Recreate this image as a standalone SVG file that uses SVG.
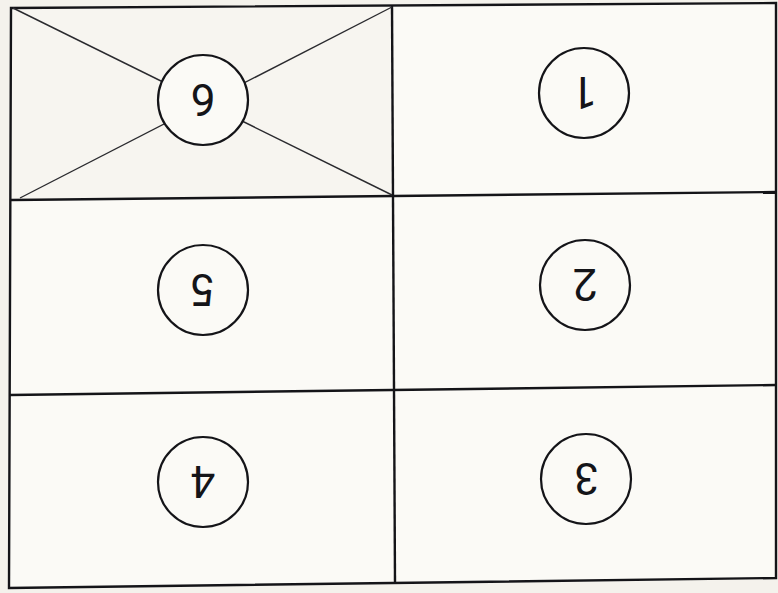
<svg xmlns="http://www.w3.org/2000/svg" width="778" height="593" viewBox="0 0 778 593">
<style>
.cell{fill:#fbfaf6;stroke:none}
.frame{fill:none;stroke:#141418;stroke-width:2.4;stroke-linejoin:miter}
.diag{stroke:#2a2a2e;stroke-width:1.4}
.ring{fill:#fbfaf6;stroke:#141418;stroke-width:2.2}
.num{font-family:Roboto,"Liberation Sans",sans-serif;font-size:44px;fill:#141418;text-anchor:middle}
</style>
<rect width="778" height="593" fill="#f4f2ec"/>
<polygon class="cell" points="11,8 776,3 776,578 9,588"/>
<polygon points="11,8 392,5 393,196 11,200" fill="#f7f5f0"/>
<g id="grid">
<polygon class="frame" points="11,8 776,3 776,578 9,588"/>
<line class="frame" x1="392" y1="5" x2="395" y2="582"/>
<line class="frame" x1="11" y1="200" x2="776" y2="192"/>
<line class="frame" x1="10" y1="395" x2="776" y2="385"/>
</g>
<g id="connectors">
<line class="diag" x1="13" y1="8" x2="392" y2="195"/>
<line class="diag" x1="20" y1="198" x2="392" y2="7"/>
</g>
<g id="n6">
<circle class="ring" cx="203" cy="100" r="45"/>
<text class="num" x="203" y="116" transform="rotate(180 203 100)">6</text>
</g>
<g id="n1">
<circle class="ring" cx="584" cy="93" r="45"/>
<text class="num" x="584" y="109" transform="rotate(180 584 93)">1</text>
</g>
<g id="n5">
<circle class="ring" cx="203" cy="290" r="45"/>
<text class="num" x="203" y="306" transform="rotate(180 203 290)">5</text>
</g>
<g id="n2">
<circle class="ring" cx="585" cy="285" r="45"/>
<text class="num" x="585" y="301" transform="rotate(180 585 285)">2</text>
</g>
<g id="n4">
<circle class="ring" cx="203" cy="482" r="45"/>
<text class="num" x="203" y="498" transform="rotate(180 203 482)">4</text>
</g>
<g id="n3">
<circle class="ring" cx="586" cy="479" r="45"/>
<text class="num" x="586" y="495" transform="rotate(180 586 479)">3</text>
</g>
</svg>
